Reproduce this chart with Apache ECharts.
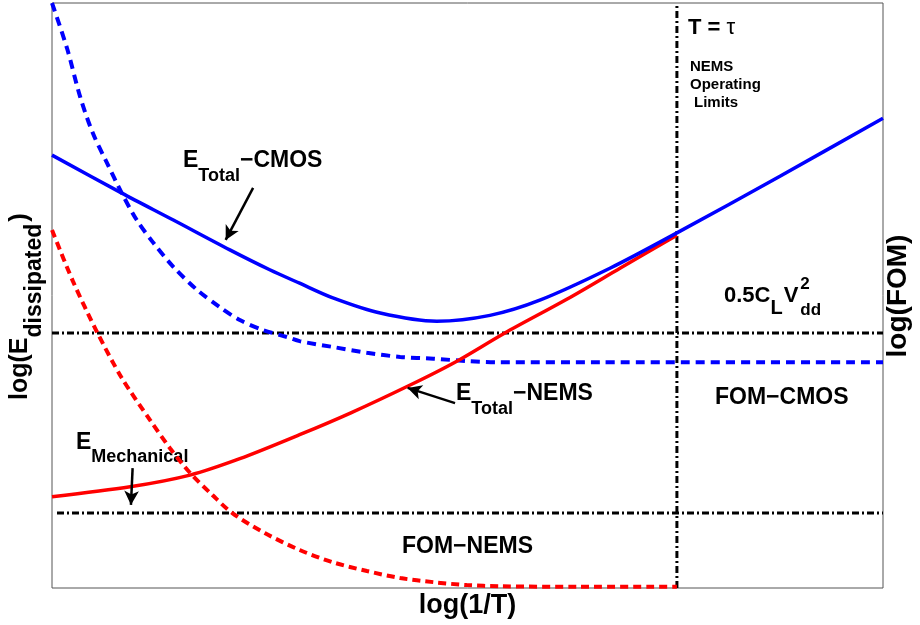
<!DOCTYPE html>
<html><head><meta charset="utf-8">
<script src="https://cdn.jsdelivr.net/npm/echarts@6/dist/echarts.min.js"></script>
<style>html,body{margin:0;padding:0;background:#fff}#c{width:920px;height:625px}</style>
</head><body><div id="c"></div>
<script>
// ---- data (x: log(1/T) 0..100, y: log(E) 0..100) ----
const cmosTotalX = [0, 8.4, 14.6, 21.4, 26.2, 29.8, 33.8, 39.5, 46.3, 52.7, 58.7, 67.2, 75.2, 87.6, 100];
const cmosTotalY = [74.0, 67.5, 62.9, 57.8, 54.4, 52.1, 49.6, 47.0, 45.6, 46.6, 49.2, 54.7, 60.7, 70.4, 80.3];

const nemsTotalX = [0, 9.4, 16.6, 22.6, 29.8, 35.9, 43.1, 48.5, 54.5, 62.0, 68.4, 75.2];
const nemsTotalY = [15.6, 17.3, 19.3, 22.1, 26.2, 29.9, 34.7, 38.6, 43.6, 49.4, 54.7, 60.3];

const cmosDashX = [0, 1.8, 3.4, 4.9, 6.6, 8.4, 10.2, 12.2, 14.6, 17.5, 20.2, 22.6, 25.4, 28.3, 29.8, 33.8, 37.9, 41.9, 45.9, 49.9, 53.9, 65.9, 100];
const cmosDashY = [100, 92.3, 83.9, 77.8, 72.7, 67.5, 62.9, 59.0, 54.9, 50.9, 48.0, 45.8, 44.1, 42.9, 42.2, 41.2, 40.2, 39.5, 39.2, 38.8, 38.6, 38.6, 38.6];

const mechX = [0, 2.5, 5.4, 8.4, 11.8, 14.2, 16.6, 19.3, 21.7, 25.6, 29.8, 33.8, 37.9, 41.9, 45.9, 49.9, 53.9, 63.5, 75.2];
const mechY = [61.2, 52.5, 43.8, 35.9, 28.7, 23.9, 19.7, 15.9, 12.8, 9.4, 6.5, 4.4, 2.9, 1.7, 1.0, 0.5, 0.3, 0.2, 0.2];

const cmosLevelX = [0, 100];       const cmosLevelY = [43.6, 43.6];   // 0.5 C_L Vdd^2
const nemsLevelX = [0.6, 100];     const nemsLevelY = [12.8, 12.8];
const limitX = [75.2, 75.2];       const limitY = [0, 100];          // T = tau

// annotation arrows [x0, y0, x1(tip), y1(tip)]
const arrowCmos = [24.2, 68.4, 20.9, 59.5];
const arrowNems = [48.5, 31.6, 42.8, 34.2];
const arrowMech = [9.7, 20.5, 9.5, 14.2];

// ---- rendering ----
const zip = (xs, ys) => xs.map((x, i) => [x, ys[i]]);
const FF = '"Liberation Sans", Arial, Helvetica, sans-serif';
const ctx = document.createElement('canvas').getContext('2d');
function tw(t, s, wgt) { ctx.font = wgt + ' ' + s + 'px ' + FF; return ctx.measureText(t).width; }
function label(x, y, parts, rot, center) {
  let total = 0;
  parts.forEach(p => { if (!p.noAdv) total += tw(p.t, p.s, p.w || 'bold') + (p.dx || 0); });
  let cx = center ? -total / 2 : 0;
  const children = [];
  parts.forEach(p => {
    const wgt = p.w || 'bold';
    children.push({
      type: 'text', x: cx + (p.dx || 0), y: p.dy || 0, silent: true,
      style: { text: p.t, fontSize: p.s, fontWeight: wgt, fontFamily: FF, fill: '#000',
        align: 'left', verticalAlign: 'middle', textAlign: 'left', textVerticalAlign: 'middle' }
    });
    if (!p.noAdv) cx += tw(p.t, p.s, wgt) + (p.dx || 0);
  });
  return { type: 'group', x: x, y: y, rotation: rot || 0, children: children, silent: true };
}

const dashDot = [7, 3, 2, 3];
function refLine(xs, ys) {
  return { type: 'line', data: zip(xs, ys), showSymbol: false, symbol: 'none', silent: true,
    lineStyle: { color: '#000', width: 3, type: dashDot }, z: 2 };
}
const arrows = [arrowCmos, arrowNems, arrowMech];

const vLine = refLine(limitX, limitY);
vLine.markLine = {
  silent: true, symbol: ['none', 'arrow'], symbolSize: [11, 14], animation: false,
  label: { show: false }, emphasis: { disabled: true },
  lineStyle: { color: '#000', width: 2.5, type: 'solid' },
  data: arrows.map(a => [{ coord: [a[0], a[1]] }, { coord: [a[2], a[3]] }])
};

const option = {
  animation: false,
  backgroundColor: '#fff',
  grid: { left: 52, right: 37, top: 3, bottom: 37, show: true, borderColor: '#555', borderWidth: 1, backgroundColor: 'transparent' },
  xAxis: { type: 'value', min: 0, max: 100, axisLine: { show: false }, axisTick: { show: false }, axisLabel: { show: false }, splitLine: { show: false } },
  yAxis: { type: 'value', min: 0, max: 100, axisLine: { show: false }, axisTick: { show: false }, axisLabel: { show: false }, splitLine: { show: false } },
  series: [
    vLine,
    refLine(cmosLevelX, cmosLevelY),
    refLine(nemsLevelX, nemsLevelY),
    { type: 'line', data: zip(mechX, mechY), smooth: 0.3, showSymbol: false, symbol: 'none', silent: true,
      lineStyle: { color: '#ff0000', width: 4, type: [8, 5] }, z: 3 },
    { type: 'line', data: zip(cmosDashX, cmosDashY), smooth: 0.3, showSymbol: false, symbol: 'none', silent: true,
      lineStyle: { color: '#0000ff', width: 4, type: [9, 6] }, z: 3 },
    { type: 'line', data: zip(nemsTotalX, nemsTotalY), smooth: 0.3, showSymbol: false, symbol: 'none', silent: true,
      lineStyle: { color: '#ff0000', width: 3.5 }, z: 4 },
    { type: 'line', data: zip(cmosTotalX, cmosTotalY), smooth: 0.3, showSymbol: false, symbol: 'none', silent: true,
      lineStyle: { color: '#0000ff', width: 3.5 }, z: 5 }
  ],
  graphic: [
    label(183, 161, [{ t: 'E', s: 23 }, { t: 'Total', s: 18, dy: 15 }, { t: '\u2212CMOS', s: 23 }]),
    label(456, 394, [{ t: 'E', s: 23 }, { t: 'Total', s: 18, dy: 15 }, { t: '\u2212NEMS', s: 23 }]),
    label(76, 443, [{ t: 'E', s: 23 }, { t: 'Mechanical', s: 18, dy: 14 }]),
    label(688, 28, [{ t: 'T = ', s: 22 }, { t: '\u03C4', s: 22, w: 'normal' }]),
    label(690, 67, [{ t: 'NEMS', s: 15 }]),
    label(690, 85, [{ t: 'Operating', s: 15 }]),
    label(694, 103, [{ t: 'Limits', s: 15 }]),
    label(724, 296, [{ t: '0.5C', s: 22 }, { t: 'L', s: 20, dy: 12 }, { t: 'V', s: 22, dx: 1 }, { t: '2', s: 17, dy: -12, dx: 2, noAdv: true }, { t: 'dd', s: 17, dy: 14, dx: 2 }]),
    label(715, 398, [{ t: 'FOM\u2212CMOS', s: 23 }]),
    label(402, 547, [{ t: 'FOM\u2212NEMS', s: 23 }]),
    label(467.5, 606, [{ t: 'log(1/T)', s: 27 }], 0, true),
    label(898, 296, [{ t: 'log(FOM)', s: 28 }], Math.PI / 2, true),
    label(20, 400, [{ t: 'log(E', s: 25 }, { t: 'dissipated', s: 23, dy: 15 }, { t: ')', s: 26, dx: 2 }], Math.PI / 2, false)
  ]
};
const chart = echarts.init(document.getElementById('c'));
chart.setOption(option);
</script></body></html>
